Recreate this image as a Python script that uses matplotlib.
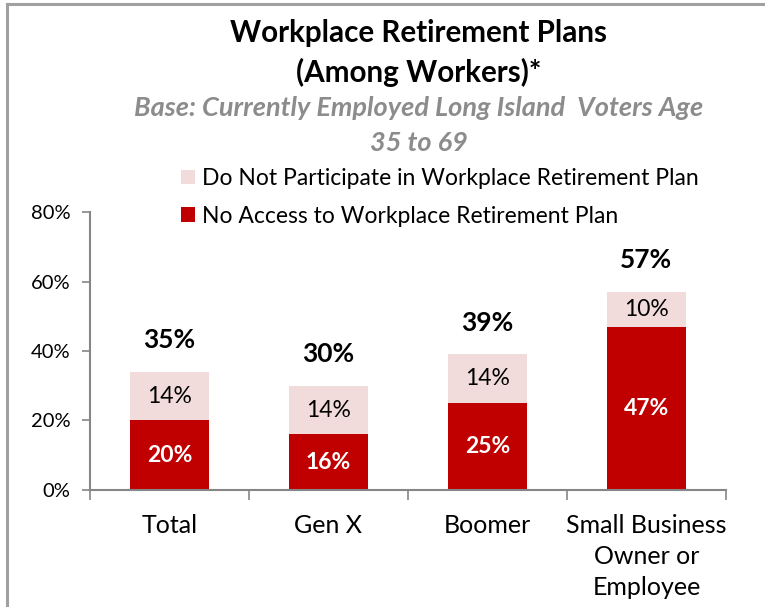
import matplotlib
matplotlib.use("Agg")
import matplotlib.pyplot as plt
from matplotlib.lines import Line2D
from matplotlib.patches import Patch
import numpy as np

plt.rcParams['font.family'] = ['Lato', 'DejaVu Sans']

categories = ["Total", "Gen X", "Boomer", "Small Business\nOwner or\nEmployee"]
no_access = [20, 16, 25, 47]
not_participate = [14, 14, 14, 10]
total_labels = ["35%", "30%", "39%", "57%"]
y_ticks = [0, 20, 40, 60, 80]

DARK = "#C00000"
LIGHT = "#F2DCDB"
AXIS = "#868686"

fig = plt.figure(figsize=(7.65, 6.07), dpi=100)
ax = fig.add_axes([0.1176, 0.1928, 0.8314, 0.4579])

x = np.arange(len(categories))
w = 0.5
ax.bar(x, no_access, width=w, color=DARK, edgecolor="none")
ax.bar(x, not_participate, width=w, bottom=no_access, color=LIGHT, edgecolor="none")

for xi, a, b, t in zip(x, no_access, not_participate, total_labels):
    ax.text(xi, a / 2, f"{a}%", ha="center", va="center", color="white",
            fontsize=16.5, fontweight="bold")
    ax.text(xi, a + b / 2, f"{b}%", ha="center", va="center", color="black",
            fontsize=16.5)
    ax.text(xi, a + b + 9.2, t, ha="center", va="center", color="black",
            fontsize=19, fontweight="bold")

ax.set_xlim(-0.5, len(categories) - 0.5)
ax.set_ylim(0, 80)
ax.set_yticks(y_ticks)
ax.set_yticklabels([f"{v}%" for v in y_ticks], fontsize=14.5)
ax.set_xticks(x)
ax.set_xticklabels(categories, fontsize=18, linespacing=1.42)
ax.tick_params(axis="x", length=0, pad=17)
ax.tick_params(axis="y", length=6, color=AXIS, width=1.2, pad=8)
# category boundary ticks along the x axis
ax.set_xticks(np.arange(-0.5, len(categories)), minor=True)
ax.tick_params(axis="x", which="minor", length=7, color=AXIS, width=1.2, direction="out")

for s in ["top", "right"]:
    ax.spines[s].set_visible(False)
for s in ["left", "bottom"]:
    ax.spines[s].set_color(AXIS)
    ax.spines[s].set_linewidth(1.5)

handles = [Patch(facecolor=LIGHT, edgecolor="none"), Patch(facecolor=DARK, edgecolor="none")]
fig.legend(handles, ["Do Not Participate in Workplace Retirement Plan",
                     "No Access to Workplace Retirement Plan"],
           loc="upper left", bbox_to_anchor=(0.221, 0.742), frameon=False,
           fontsize=16.5, handlelength=0.62, handleheight=0.62, handletextpad=0.3,
           labelspacing=0.72, borderpad=0)

fig.text(0.547, 0.945, "Workplace Retirement Plans", ha="center", va="center",
         fontsize=21.3, fontweight="bold")
fig.text(0.547, 0.881, "(Among Workers)*", ha="center", va="center",
         fontsize=21.3, fontweight="bold")
fig.text(0.547, 0.822, "Base: Currently Employed Long Island  Voters Age", ha="center",
         va="center", fontsize=19.5, fontweight="bold", fontstyle="italic", color="#8C8C8C")
fig.text(0.547, 0.764, "35 to 69", ha="center", va="center",
         fontsize=19.5, fontweight="bold", fontstyle="italic", color="#8C8C8C")

# outer frame (top and left edges)
fig.add_artist(Line2D([0.009, 1.0], [0.994, 0.994], color="#A0A0A0", lw=2.2))
fig.add_artist(Line2D([0.009, 0.009], [0.0, 0.994], color="#A0A0A0", lw=2.2))

fig.savefig("out.png", dpi=100)
